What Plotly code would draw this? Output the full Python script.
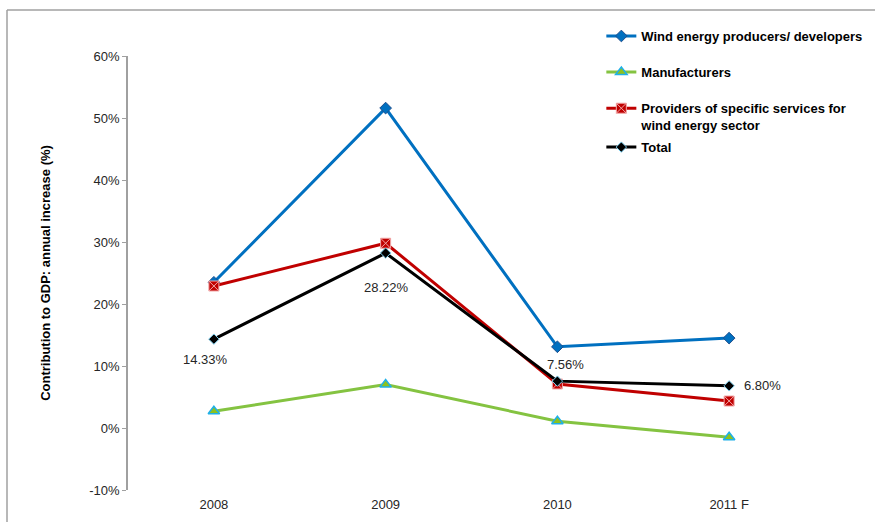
import plotly.graph_objects as go

# Annual increase of the contribution to GDP, by sub-sector
years = ["2008", "2009", "2010", "2011 F"]
producers = [0.235, 0.516, 0.131, 0.145]
manufacturers = [0.027, 0.070, 0.011, -0.015]
providers = [0.229, 0.298, 0.071, 0.0435]
total = [0.1433, 0.2822, 0.0756, 0.0680]

# Y-axis ticks (fractions) and their labels
y_ticks = [-0.1, 0.0, 0.1, 0.2, 0.3, 0.4, 0.5, 0.6]
y_tick_labels = [f"{round(v * 100)}%" for v in y_ticks]

FONT = "Liberation Sans, Arial, sans-serif"
AXIS_GREY = "#A0A0A0"
TEXT = "#262626"

fig = go.Figure()

fig.add_trace(go.Scatter(
    x=years, y=producers, mode="lines+markers",
    name="Wind energy producers/ developers", legend="legend",
    line=dict(color="#0070C0", width=3),
    marker=dict(symbol="diamond", size=9, color="#0070C0",
                line=dict(color="#1F4E8C", width=1)),
))
fig.add_trace(go.Scatter(
    x=years, y=manufacturers, mode="lines+markers",
    name="Manufacturers", legend="legend2",
    line=dict(color="#84C341", width=3),
    marker=dict(symbol="triangle-up", size=10, color="#8DC21F",
                line=dict(color="#1FB0E8", width=1.5)),
))
fig.add_trace(go.Scatter(
    x=years, y=providers, mode="lines+markers",
    name="Providers of specific services for<br>wind energy sector", legend="legend3",
    line=dict(color="#C00000", width=3),
    marker=dict(symbol="square-x", size=10, color="#C00000",
                line=dict(color="#F2A7A7", width=1)),
))
fig.add_trace(go.Scatter(
    x=years, y=total, mode="lines+markers",
    name="Total", legend="legend4",
    line=dict(color="#000000", width=3),
    marker=dict(symbol="diamond", size=8, color="#000000",
                line=dict(color="#7FD0F0", width=1)),
))

# Data labels on the total series (x given as category index)
label_offsets = [(-8, -20, "center"), (1, -34, "center"), (8, 17, "center"), (13, 0, "left")]
for i, (val, (dx, dy, anchor)) in enumerate(zip(total, label_offsets)):
    fig.add_annotation(
        x=i, y=val, xref="x", yref="y", text=f"{val * 100:.2f}%",
        showarrow=False, xshift=dx, yshift=dy, xanchor=anchor, yanchor="middle",
        font=dict(family=FONT, size=13, color=TEXT),
    )

legend_common = dict(
    x=0.689, xanchor="left", bgcolor="rgba(0,0,0,0)", borderwidth=0,
    font=dict(family=FONT, size=13, color="#000000", weight="bold"),
    itemclick=False, itemdoubleclick=False,
)

fig.update_layout(
    width=875, height=522,
    margin=dict(l=128, r=60, t=56, b=32, autoexpand=False),
    paper_bgcolor="white", plot_bgcolor="white",
    font=dict(family=FONT, size=13, color=TEXT),
    showlegend=True,
    legend=dict(y=1.046, yanchor="middle", **legend_common),
    legend2=dict(y=0.963, yanchor="middle", **legend_common),
    legend3=dict(y=0.860, yanchor="middle", valign="top", **legend_common),
    legend4=dict(y=0.790, yanchor="middle", **legend_common),
    xaxis=dict(
        type="category", range=[-0.5, 3.5], showline=False, ticks="",
        showgrid=False, zeroline=False, ticklabelstandoff=5, automargin=False,
        tickfont=dict(family=FONT, size=13, color=TEXT),
    ),
    xaxis2=dict(
        overlaying="x", anchor="free", position=(490 - 428) / 434,
        range=[-0.5, 3.5], tickmode="array", tickvals=[-0.5, 0.5, 1.5, 2.5, 3.5],
        showticklabels=False, ticks="outside", ticklen=4, tickcolor=AXIS_GREY,
        showline=True, linecolor=AXIS_GREY, linewidth=1.5,
        showgrid=False, zeroline=False, automargin=False,
    ),
    yaxis=dict(
        range=[-0.1, 0.6], tickmode="array", tickvals=y_ticks, ticktext=y_tick_labels,
        showline=True, linecolor=AXIS_GREY, linewidth=1.5,
        ticks="outside", ticklen=4, tickcolor=AXIS_GREY,
        showgrid=False, zeroline=False, automargin=False,
        tickfont=dict(family=FONT, size=13, color=TEXT),
        title=dict(text="Contribution to GDP: annual increase (%)",
                   font=dict(family=FONT, size=13, color="#000000", weight="bold"),
                   standoff=36),
    ),
)

# Outer chart frame (top and left edges sit inside the page)
fig.add_shape(type="line", xref="paper", yref="paper",
              x0=(7 - 128) / 687, x1=(880 - 128) / 687,
              y0=(490 - 10) / 434, y1=(490 - 10) / 434,
              line=dict(color=AXIS_GREY, width=1.5))
fig.add_shape(type="line", xref="paper", yref="paper",
              x0=(7 - 128) / 687, x1=(7 - 128) / 687,
              y0=(490 - 10) / 434, y1=(490 - 530) / 434,
              line=dict(color=AXIS_GREY, width=1.5))

fig.write_html("out.html")
